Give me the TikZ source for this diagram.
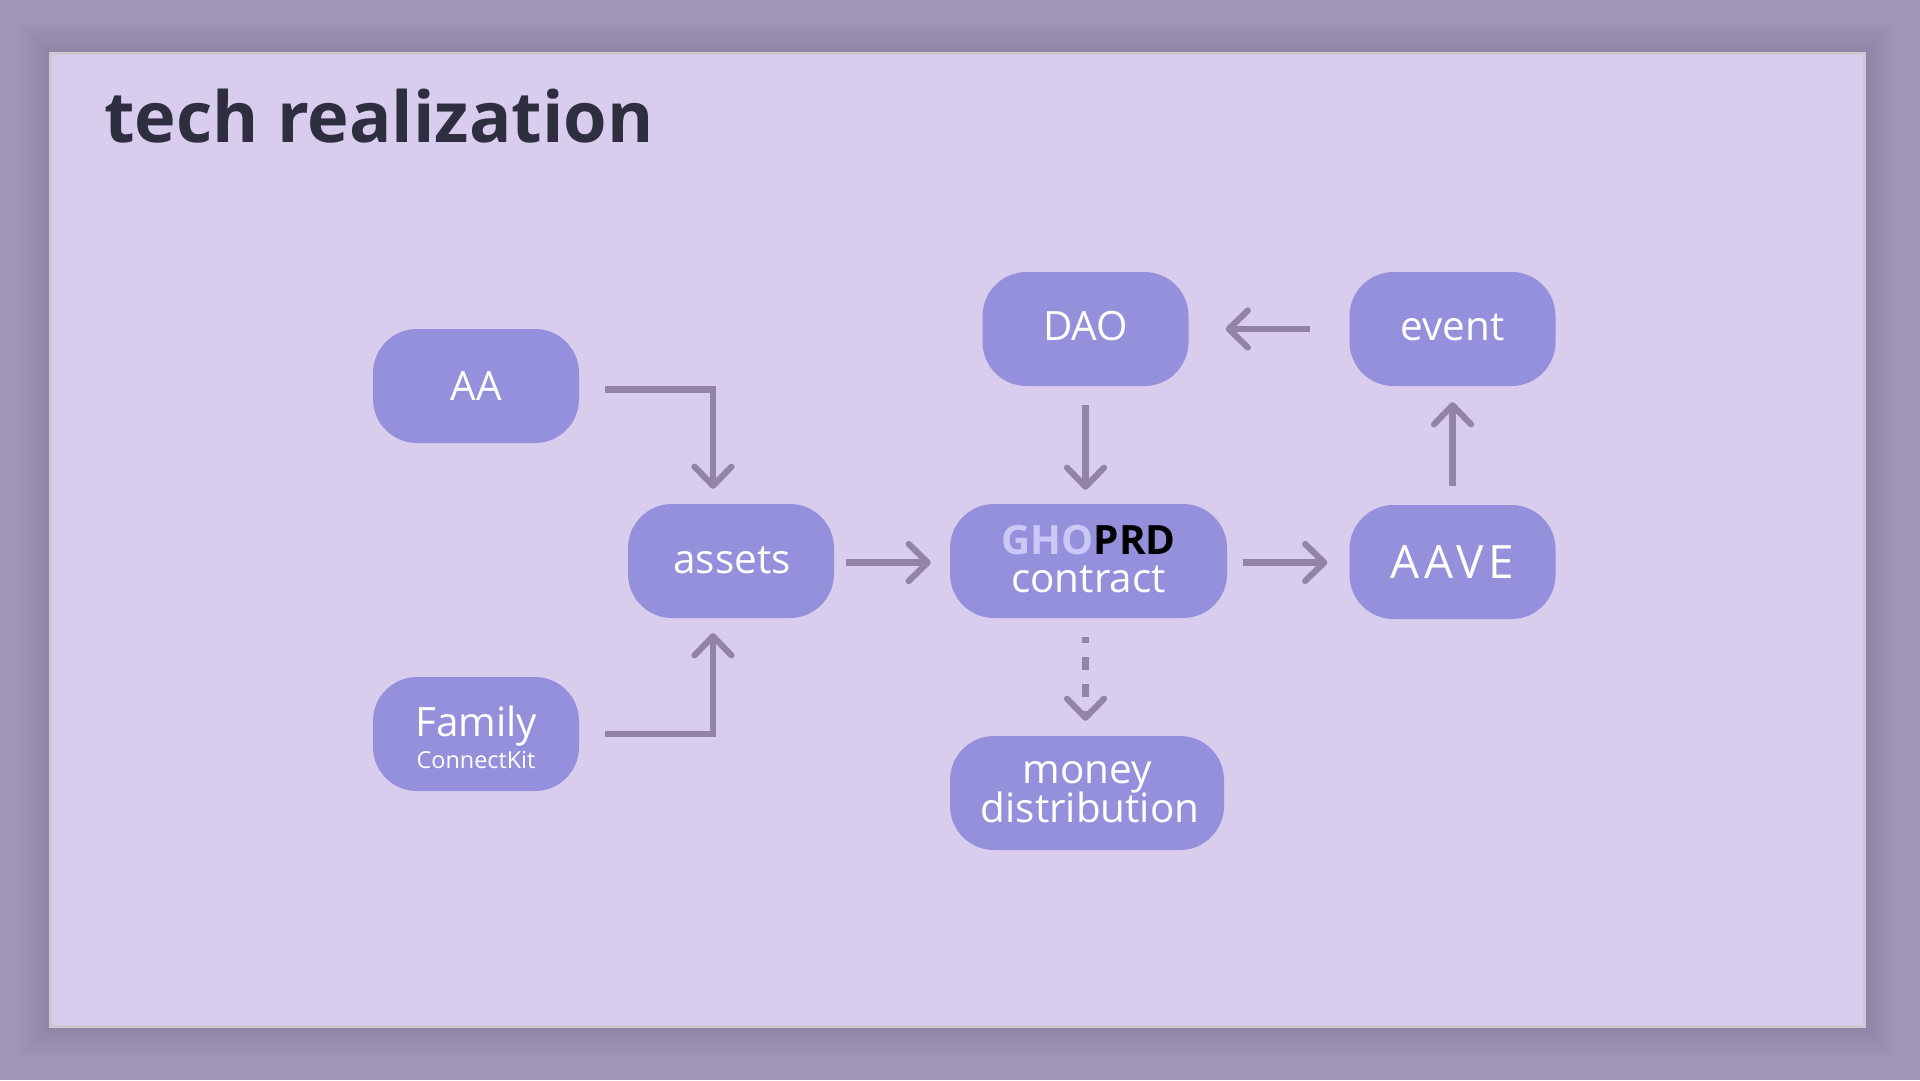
\documentclass[tikz,border=0pt]{standalone}
\usepackage{fontspec}
\usetikzlibrary{arrows.meta, positioning, calc}
\setmainfont{Open Sans}
\newfontfamily\aavefont[LetterSpace=10]{Open Sans}
\definecolor{outerbg}{HTML}{A195B5}
\definecolor{slidebg}{HTML}{D8CDEC}
\definecolor{slideedge}{HTML}{CBCAD2}
\definecolor{boxfill}{HTML}{9590DC}
\definecolor{flowcol}{HTML}{9184A8}
\definecolor{titlecol}{HTML}{2F2E41}
\definecolor{ghocol}{HTML}{CBC8F8}
\newcommand{\lift}[1]{\raisebox{3.5pt}{#1}}
\tikzset{
    box/.style={fill=boxfill, text=white, rounded corners=44pt, inner sep=0pt,
        minimum height=114pt, minimum width=206pt, align=center,
        font=\fontsize{40.4}{38}\selectfont},
    flow/.style={draw=flowcol, line width=6.2pt,
        -{Straight Barb[length=19pt, width=37pt, round]}},
}

\begin{document}
\begin{tikzpicture}[x=1pt, y=-1pt]
    \useasboundingbox (0,0) rectangle (1920,1080);
    \fill[outerbg] (0,0) rectangle (1920,1080);

    % Soft shadow and slide
    \foreach \i in {2,4,...,30}
        \fill[black, opacity=0.002] (49-\i,51-\i) rectangle (1866+\i,1028+\i);
    \draw[slideedge, fill=slidebg, line width=3pt] (50.5,53) rectangle (1864.5,1026.5);
    \node[anchor=base west, inner sep=0pt, text=titlecol, font=\fontsize{70.4}{72}\selectfont\bfseries] (title) at (104,142) {tech realization};

    % Boxes
    \node[box] (aa) at (476,386) {AA};
    \node[box] (family) at (476,734) {\raisebox{-6pt}[\height][0pt]{Family}\\[-1pt]\fontsize{23.4}{24}\selectfont\raisebox{-1pt}[\height][0pt]{ConnectKit}};
    \node[box] (assets) at (731,561) {\hspace*{2pt}\raisebox{1pt}{assets}};
    \node[box, minimum width=277pt] (contract) at (1088.5,561) {\lift{{\bfseries\textcolor{ghocol}{GHO}\textcolor{black}{PRD}}}\\\lift{contract}};
    \node[box, minimum width=274pt] (money) at (1087,793) {\raisebox{2.5pt}{money}\\[-2pt]\hspace*{6pt}\raisebox{2.5pt}{distribution}};
    \node[box] (dao) at (1085.5,329) {\raisebox{5.5pt}{DAO}};
    \node[box] (event) at (1452.5,329) {\raisebox{4.5pt}{event}};
    \node[box, font=\fontsize{46}{46}\selectfont\aavefont] (aave) at (1452.5,562) {AAVE};

    % Connectors
    \draw[flow, shorten <=26pt, shorten >=15pt] ([yshift=-3.5pt]aa.east) -| ([xshift=-18pt]assets.north);
    \draw[flow, shorten <=26pt, shorten >=15pt] (family.east) -| ([xshift=-18pt]assets.south);
    \draw[flow, shorten <=12pt, shorten >=19pt] ([yshift=-1.5pt]assets.east) -- ([yshift=-1.5pt]contract.west);
    \draw[flow, shorten <=16pt, shorten >=22pt] ([yshift=-1.5pt]contract.east) -- ([yshift=-1.5pt]contract.east -| aave.west);
    \draw[flow, shorten <=19pt, shorten >=16pt] (aave) -- (event);
    \draw[flow, shorten <=39pt, shorten >=37pt] (event) -- (dao);
    \draw[flow, shorten <=19pt, shorten >=14pt] (dao.south) -- (dao.south |- contract.north);
    \draw[flow, shorten <=19pt, shorten >=15pt, dash pattern=on 13pt off 14pt, dash phase=7pt] (dao.south |- contract.south) -- (dao.south |- money.north);
\end{tikzpicture}
\end{document}
